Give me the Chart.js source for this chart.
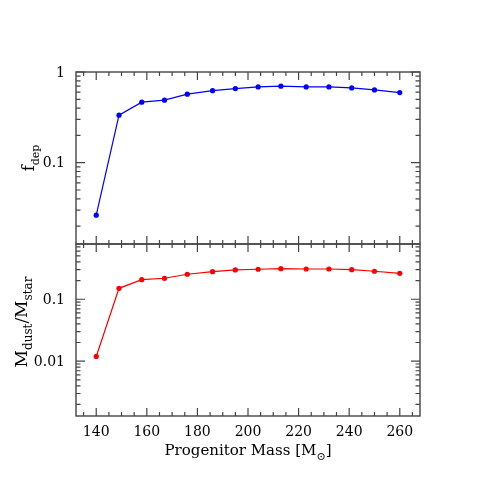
<!DOCTYPE html>
<html>
<head>
<meta charset="utf-8">
<script src="https://cdn.jsdelivr.net/npm/chart.js@4.4.1/dist/chart.umd.min.js"></script>
<style>
  html, body { margin: 0; padding: 0; background: #fff; }
  #wrap { position: relative; width: 491px; height: 491px; }
  #wrap canvas { position: absolute; left: 0; top: 0; }
</style>
</head>
<body>
<div id="wrap">
  <canvas id="topChart" width="491" height="491"></canvas>
  <canvas id="bottomChart" width="491" height="491"></canvas>
</div>
<script>
// --- Daten ---
const masses = [140, 149, 158, 167, 176, 186, 195, 204, 213, 223, 232, 241, 250, 260];
const fDep = [0.0264, 0.334, 0.465, 0.489, 0.569, 0.623, 0.656, 0.684, 0.697, 0.684, 0.684, 0.667, 0.634, 0.593];
const dustRatio = [0.0119, 0.150, 0.207, 0.218, 0.253, 0.279, 0.297, 0.305, 0.312, 0.308, 0.308, 0.300, 0.283, 0.262];

const xTickLabels = [140, 160, 180, 200, 220, 240, 260];
const topYTickLabels = [1, 0.1];
const bottomYTickLabels = [0.1, 0.01];

const FONT = '"DejaVu Serif", serif';
const FRAME = '#444';

// Text mit Tiefstellung zeichnen (Segmente)
function drawSegments(ctx, segs, cx, cy, size, subRatio) {
    const subSize = Math.round(size * (subRatio || 0.62));
    let total = 0;
    segs.forEach(s => {
        ctx.font = (s.sub ? subSize : size) + 'px ' + FONT;
        s.w = ctx.measureText(s.t).width;
        total += s.w;
    });
    let x = cx - total / 2;
    ctx.textAlign = 'left';
    ctx.textBaseline = 'alphabetic';
    segs.forEach(s => {
        ctx.font = (s.sub ? subSize : size) + 'px ' + FONT;
        ctx.fillText(s.t, x, cy + (s.sub ? size * 0.3 : 0));
        x += s.w;
    });
}

// Rahmen, Ticks nach innen, Beschriftung
const framePlugin = {
    id: 'frame',
    afterDraw(chart, args, opts) {
        const ctx = chart.ctx;
        const a = chart.chartArea;
        const xs = chart.scales.x, ys = chart.scales.y;
        ctx.save();
        ctx.strokeStyle = FRAME;
        ctx.fillStyle = '#000';
        ctx.lineWidth = 1.4;
        ctx.strokeRect(a.left, a.top, a.right - a.left, a.bottom - a.top);

        // x ticks
        ctx.lineWidth = 1.2;
        ctx.beginPath();
        for (let v = 135; v <= xs.max; v += 5) {
            const px = xs.getPixelForValue(v);
            const len = (v % 20 === 0) ? 8 : 4;
            ctx.moveTo(px, a.top); ctx.lineTo(px, a.top + len);
            ctx.moveTo(px, a.bottom); ctx.lineTo(px, a.bottom - len);
        }
        // log y ticks
        const d0 = Math.floor(Math.log10(ys.min)), d1 = Math.ceil(Math.log10(ys.max));
        for (let d = d0; d <= d1; d++) {
            for (let k = 1; k <= 9; k++) {
                const v = k * Math.pow(10, d);
                if (v < ys.min || v > ys.max) continue;
                const py = ys.getPixelForValue(v);
                const len = k === 1 ? 9 : 4.5;
                ctx.moveTo(a.left, py); ctx.lineTo(a.left + len, py);
                ctx.moveTo(a.right, py); ctx.lineTo(a.right - len, py);
            }
        }
        ctx.stroke();

        // y tick labels
        ctx.font = '14px ' + FONT;
        ctx.textAlign = 'right';
        ctx.textBaseline = 'middle';
        opts.yLabels.forEach(v => {
            ctx.fillText(String(v), a.left - 11, ys.getPixelForValue(v) + 1);
        });

        // x tick labels + title
        if (opts.xLabels) {
            ctx.textAlign = 'center';
            ctx.textBaseline = 'top';
            xTickLabels.forEach(v => {
                ctx.fillText(String(v), xs.getPixelForValue(v), a.bottom + 9);
            });
            drawSegments(ctx, [{ t: 'Progenitor Mass [M' }, { t: '\u2299', sub: true }, { t: ']' }],
                (a.left + a.right) / 2, a.bottom + 39, 15, 0.7);
        }

        // y title
        ctx.save();
        ctx.translate(opts.titleX, opts.titleY);
        ctx.rotate(-Math.PI / 2);
        drawSegments(ctx, opts.title, 0, 0, opts.titleSize, 0.68);
        ctx.restore();

        ctx.restore();
    }
};

function makeChart(id, data, color, yMin, yMax, padTop, padBottom, opts) {
    return new Chart(document.getElementById(id), {
        type: 'line',
        data: {
            datasets: [{
                data: masses.map((m, i) => ({ x: m, y: data[i] })),
                borderColor: color,
                backgroundColor: color,
                borderWidth: 1.2,
                pointRadius: 2.6,
                pointBorderWidth: 0,
                tension: 0
            }]
        },
        options: {
            responsive: false,
            animation: false,
            events: [],
            layout: { padding: { left: 76, right: 71, top: padTop, bottom: padBottom } },
            plugins: { legend: { display: false }, tooltip: { enabled: false }, frame: opts },
            scales: {
                x: { type: 'linear', min: 132, max: 268, display: false },
                y: { type: 'logarithmic', min: yMin, max: yMax, display: false }
            }
        },
        plugins: [framePlugin]
    });
}

makeChart('topChart', fDep, '#0000ff', 0.0127, 1, 72, 247, {
    yLabels: topYTickLabels, xLabels: false, titleSize: 16,
    title: [{ t: 'f' }, { t: 'dep', sub: true }], titleX: 34, titleY: 158
});
makeChart('bottomChart', dustRatio, '#ff0000', 0.0013, 0.78, 244, 75, {
    yLabels: bottomYTickLabels, xLabels: true, titleSize: 17,
    title: [{ t: 'M' }, { t: 'dust', sub: true }, { t: '/M' }, { t: 'star', sub: true }], titleX: 27, titleY: 322
});
</script>
</body>
</html>
